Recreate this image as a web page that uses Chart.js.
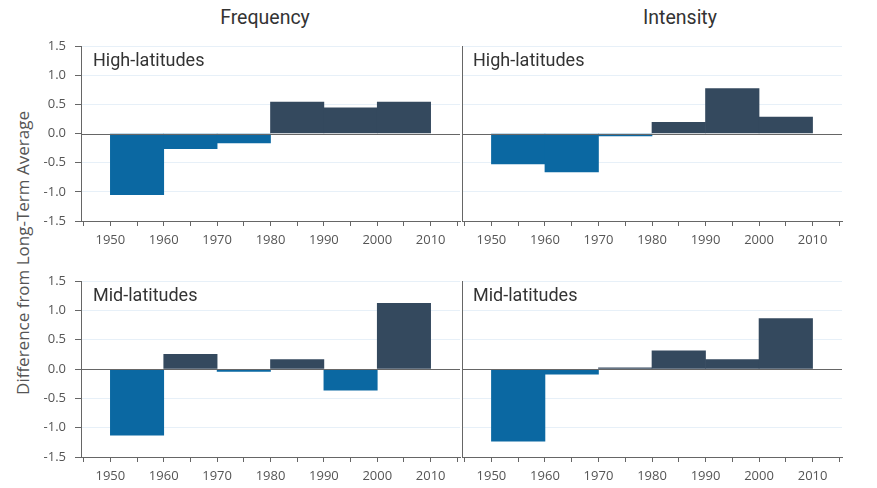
<!DOCTYPE html>
<html>
<head>
<meta charset="utf-8">
<script src="https://cdn.jsdelivr.net/npm/chart.js@4"></script>
<style>
  body { margin: 0; background: #fff; width: 877px; height: 488px; position: relative; overflow: hidden; }
  canvas { position: absolute; }
  .title { position: absolute; top: 17px; transform: translate(-50%, -50%); font-family: Roboto, sans-serif; font-size: 19.5px; color: #333; white-space: nowrap; }
  .ytitle { position: absolute; left: 22px; top: 253px; transform: translate(-50%, -50%) rotate(-90deg); font-family: "Open Sans", sans-serif; font-size: 17px; color: #555; white-space: nowrap; }
</style>
</head>
<body>
<div class="title" style="left:265px">Frequency</div>
<div class="title" style="left:680px">Intensity</div>
<div class="ytitle">Difference from Long-Term Average</div>

<canvas id="highFreq" width="462" height="220" style="left:0;top:40px"></canvas>
<canvas id="highInt" width="437" height="220" style="left:440px;top:40px"></canvas>
<canvas id="midFreq" width="462" height="220" style="left:0;top:275px"></canvas>
<canvas id="midInt" width="437" height="220" style="left:440px;top:275px"></canvas>

<script>
// decade start years, each bar spans one decade
const decades = [1950, 1960, 1970, 1980, 1990, 2000];

const highFrequency = [-1.05, -0.26, -0.16, 0.54, 0.44, 0.54];
const highIntensity = [-0.52, -0.66, -0.04, 0.19, 0.77, 0.28];
const midFrequency = [-1.13, 0.25, -0.04, 0.16, -0.36, 1.12];
const midIntensity = [-1.23, -0.09, 0.02, 0.31, 0.16, 0.86];

const BLUE = '#0b68a2';
const NAVY = '#34495e';
const AXIS = '#666';
const GRID = '#e7f0f8';

const panelLabel = {
    id: 'panelLabel',
    afterDraw(chart, args, opts) {
        const { ctx, chartArea } = chart;
        ctx.save();
        ctx.font = '18px Roboto';
        ctx.fillStyle = '#333';
        ctx.textBaseline = 'middle';
        ctx.fillText(opts.text, chartArea.left + opts.dx, chartArea.top + opts.dy);
        ctx.restore();
    }
};

// zero line drawn over the bars
const zeroLine = {
    id: 'zeroLine',
    afterDatasetsDraw(chart) {
        const { ctx, chartArea, scales } = chart;
        const y = Math.round(scales.y.getPixelForValue(0)) + 0.5;
        ctx.save();
        ctx.strokeStyle = AXIS;
        ctx.lineWidth = 1;
        ctx.beginPath();
        ctx.moveTo(chartArea.left, y);
        ctx.lineTo(chartArea.right, y);
        ctx.stroke();
        ctx.restore();
    }
};

const isHalf = v => Math.abs(v * 2 - Math.round(v * 2)) < 1e-6;

function makePanel(id, values, label, isLeft, plotHeight) {
    const canvas = document.getElementById(id);
    const yWidth = isLeft ? 81 : 22;
    const padRight = isLeft ? 2 : 35;

    return new Chart(canvas.getContext('2d'), {
        type: 'bar',
        data: {
            datasets: [{
                data: decades.map((d, i) => ({ x: d + 5, y: values[i] })),
                backgroundColor: c => (c.raw && c.raw.y < 0 ? BLUE : NAVY),
                barThickness: 'flex',
                barPercentage: 1,
                categoryPercentage: 1,
                borderWidth: 0
            }]
        },
        options: {
            responsive: false,
            animation: false,
            layout: { padding: { top: 6, right: padRight, left: 0, bottom: 0 } },
            plugins: {
                legend: { display: false },
                tooltip: { enabled: false },
                panelLabel: { text: label, dx: isLeft ? 12 : 11, dy: 15 }
            },
            scales: {
                x: {
                    type: 'linear',
                    offset: false,
                    min: 1944.5,
                    max: 2015.5,
                    ticks: {
                        stepSize: 5,
                        includeBounds: false,
                        autoSkip: false,
                        maxRotation: 0,
                        padding: 6,
                        color: '#555',
                        font: { family: 'Open Sans', size: 13 },
                        callback: v => (v % 10 === 0 ? String(v) : '')
                    },
                    grid: { offset: false, drawOnChartArea: false, tickLength: 5, tickColor: AXIS },
                    border: { color: AXIS },
                    afterFit: s => {
                        s.height = 220 - 6 - plotHeight;
                        s.paddingLeft = 0;
                        s.paddingRight = 0;
                    }
                },
                y: {
                    min: -1.5,
                    max: 1.5,
                    ticks: {
                        stepSize: 0.25,
                        display: isLeft,
                        padding: 9,
                        color: '#555',
                        font: { family: 'Open Sans', size: 13 },
                        callback: v => (isHalf(v) ? v.toFixed(1) : '')
                    },
                    grid: {
                        color: c => (isHalf(c.tick.value) && c.tick.value !== 0 ? GRID : 'rgba(0,0,0,0)'),
                        tickColor: AXIS,
                        tickLength: 6,
                        drawTicks: isLeft
                    },
                    border: { color: AXIS },
                    afterFit: s => {
                        s.width = yWidth;
                        s.paddingTop = 0;
                        s.paddingBottom = 0;
                    }
                }
            }
        },
        plugins: [panelLabel, zeroLine]
    });
}

makePanel('highFreq', highFrequency, 'High-latitudes', true, 175);
makePanel('highInt', highIntensity, 'High-latitudes', false, 175);
makePanel('midFreq', midFrequency, 'Mid-latitudes', true, 176);
makePanel('midInt', midIntensity, 'Mid-latitudes', false, 176);
</script>
</body>
</html>
